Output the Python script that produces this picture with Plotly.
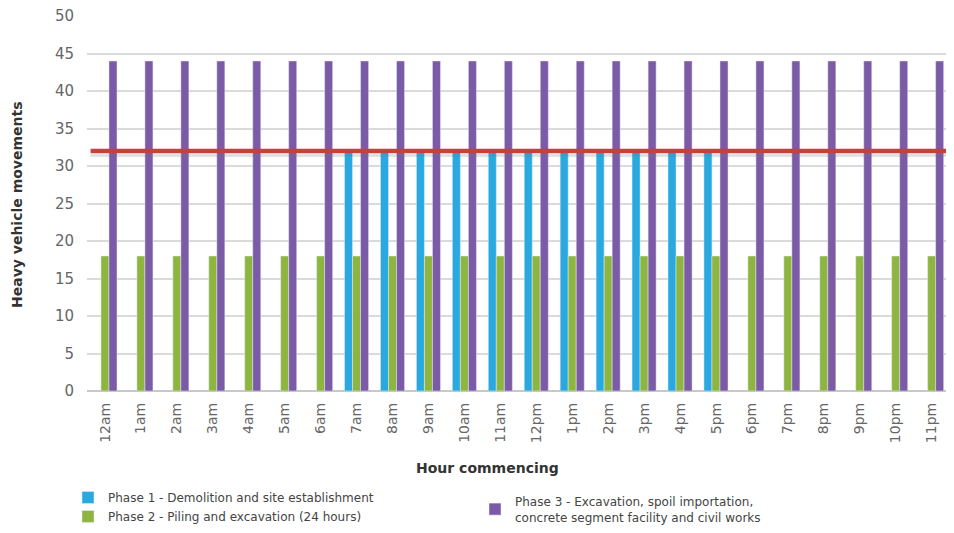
import plotly.graph_objects as go

hours = ["12am", "1am", "2am", "3am", "4am", "5am", "6am", "7am", "8am", "9am", "10am", "11am",
         "12pm", "1pm", "2pm", "3pm", "4pm", "5pm", "6pm", "7pm", "8pm", "9pm", "10pm", "11pm"]
phase1 = [None] * 7 + [32] * 11 + [None] * 6
phase2 = [18] * 24
phase3 = [44] * 24
threshold = 32
y_ticks = [0, 5, 10, 15, 20, 25, 30, 35, 40, 45, 50]

names = ["Phase 1 - Demolition and site establishment",
         "Phase 2 - Piling and excavation (24 hours)",
         "Phase 3 - Excavation, spoil importation,<br>concrete segment facility and civil works"]
colors = ["#29a9e0", "#8db540", "#7b5aa6"]

# figure sits inside the page body (8px margin), so it is 16px smaller than the window
W, H = 938, 517
L, T, B = 79, 8, 134
PW, PH = W - L, H - T - B
font = "DejaVu Sans"

fig = go.Figure()
fig.add_trace(go.Bar(x=hours, y=phase1, name=names[0], marker_color=colors[0], legend="legend"))
fig.add_trace(go.Bar(x=hours, y=phase2, name=names[1], marker_color=colors[1], legend="legend"))
fig.add_trace(go.Bar(x=hours, y=phase3, name=names[2], marker_color=colors[2], legend="legend2"))

# shadow + threshold line
fig.add_shape(type="line", xref="x", yref="y", x0=-0.4, x1=23.6, y0=threshold - 0.6, y1=threshold - 0.6,
              line=dict(color="rgba(120,120,120,0.22)", width=3), layer="above")
fig.add_shape(type="line", xref="x", yref="y", x0=-0.4, x1=23.6, y0=threshold, y1=threshold,
              line=dict(color="#c6403d", width=4.5), layer="above")

# axis titles as annotations (placed as in the reference)
fig.add_annotation(text="<b>Heavy vehicle movements</b>", xref="paper", yref="paper",
                   x=(9 - L) / PW, y=(T + PH - 197) / PH, xanchor="center", yanchor="middle",
                   textangle=-90, showarrow=False, font=dict(family=font, size=14, color="#333333"))
fig.add_annotation(text="<b>Hour commencing</b>", xref="paper", yref="paper",
                   x=(479 - L) / PW, y=(T + PH - 460) / PH, xanchor="center", yanchor="middle",
                   showarrow=False, font=dict(family=font, size=14, color="#333333"))

fig.update_layout(
    width=W, height=H,
    margin=dict(l=L, r=0, t=T, b=B, autoexpand=False),
    paper_bgcolor="white", plot_bgcolor="white",
    barmode="group", bargap=0.33, bargroupgap=0,
    font=dict(family=font, color="#555555", size=13),
    showlegend=True,
    legend=dict(xref="container", yref="container", x=60 / W, y=1 - 475 / H,
                xanchor="left", yanchor="top", orientation="v", tracegroupgap=0,
                font=dict(size=12, color="#444444"), itemwidth=30),
    legend2=dict(xref="container", yref="container", x=467 / W, y=1 - 479 / H,
                 xanchor="left", yanchor="top", orientation="v",
                 font=dict(size=12, color="#444444"), itemwidth=30),
)
fig.update_xaxes(
    type="category", range=[-0.5, 23.4], tickangle=-90,
    tickfont=dict(size=14, color="#666666"), showgrid=False, showline=False, ticks="",
    ticklabelstandoff=8,
)
fig.update_yaxes(
    range=[0, 50], tickvals=y_ticks, showgrid=True, gridcolor="#dadada", gridwidth=1.5,
    zeroline=True, zerolinecolor="#c8c8c8", zerolinewidth=1.5,
    tickfont=dict(size=15, color="#666666"), ticks="", ticklabelstandoff=12,
    ticklabeloverflow="allow",
)

fig.write_html("out.html")
